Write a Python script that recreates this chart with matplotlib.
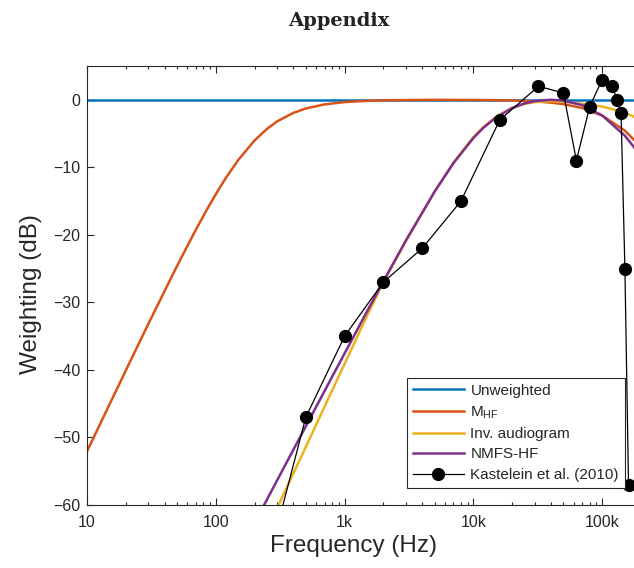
import matplotlib
matplotlib.use("Agg")
import matplotlib.pyplot as plt
from matplotlib.ticker import FixedLocator, FixedFormatter, LogLocator, NullFormatter

plt.rcParams['font.family'] = ['Liberation Sans', 'DejaVu Sans']
plt.rcParams['mathtext.fontset'] = 'custom'
plt.rcParams['mathtext.rm'] = 'Liberation Sans'
plt.rcParams['mathtext.it'] = 'Liberation Sans:italic'

# ---------------- data ----------------
unw_freq = [10, 200000]
unw_db = [0, 0]

mhf_freq = [10, 15, 20, 30, 50, 70, 85, 100, 120, 150, 200, 250, 300, 400, 500, 700,
            1000, 1500, 2000, 3000, 5000, 7000, 10000, 15000, 20000, 30000, 40000,
            50000, 70000, 100000, 150000, 200000]
mhf_db = [-52.06, -45.05, -40.09, -33.15, -24.61, -19.24, -16.31, -13.98, -11.54, -8.87,
          -6.02, -4.30, -3.19, -1.94, -1.29, -0.68, -0.34, -0.15, -0.09, -0.04, -0.01,
          -0.02, -0.03, -0.06, -0.11, -0.24, -0.42, -0.65, -1.22, -2.34, -4.58, -6.98]

inv_freq = [250, 300, 500, 700, 1000, 1500, 2000, 3000, 5000, 7000, 10000, 12000, 15000,
            20000, 25000, 30000, 40000, 50000, 70000, 100000, 150000, 200000]
inv_db = [-63.7, -60.4, -51.4, -45.4, -39.1, -31.9, -27.0, -20.9, -13.6, -9.3, -5.5,
          -4.0, -2.5, -1.2, -0.6, -0.35, -0.2, -0.3, -0.6, -1.0, -1.9, -3.0]

nmfs_freq = [200, 300, 500, 700, 1000, 1500, 2000, 3000, 5000, 7000, 10000, 12000, 15000,
             20000, 25000, 30000, 40000, 50000, 70000, 100000, 150000, 200000]
nmfs_db = [-62.65, -56.31, -48.34, -43.09, -37.55, -31.27, -26.87, -20.79, -13.59,
           -9.38, -5.66, -4.12, -2.61, -1.22, -0.53, -0.19, 0.0, -0.12, -0.80, -2.33,
           -5.33, -8.33]

kas_freq = [250, 500, 1000, 2000, 4000, 8000, 16000, 32000, 50000, 63000, 80000, 100000,
            120000, 130000, 140000, 150000, 160000]
kas_db = [-69, -47, -35, -27, -22, -15, -3, 2, 1, -9, -1, 3, 2, 0, -2, -25, -57]

xtick_vals = [10, 100, 1000, 10000, 100000]
xtick_labels = ['10', '100', '1k', '10k', '100k']
ytick_vals = [-60, -50, -40, -30, -20, -10, 0]

series_labels = ['Unweighted', r'M$_{\mathregular{HF}}$', 'Inv. audiogram', 'NMFS-HF',
                 'Kastelein et al. (2010)']
colors = ['#0072BD', '#D95319', '#EDB120', '#7E2F8E']

# ---------------- figure ----------------
W, H = 634, 568
fig = plt.figure(figsize=(W / 100, H / 100), dpi=100)
left, right, bottom, top = 87, 641, 505, 66
ax = fig.add_axes([left / W, 1 - bottom / H, (right - left) / W, (bottom - top) / H])

lw = 1.8
ax.plot(unw_freq, unw_db, color=colors[0], lw=lw, label=series_labels[0])
ax.plot(mhf_freq, mhf_db, color=colors[1], lw=lw, label=series_labels[1])
ax.plot(inv_freq, inv_db, color=colors[2], lw=lw, label=series_labels[2])
ax.plot(nmfs_freq, nmfs_db, color=colors[3], lw=lw, label=series_labels[3])
ax.plot(kas_freq, kas_db, color='black', lw=0.9, marker='o', ms=8.5,
        label=series_labels[4])

ax.set_xscale('log')
ax.set_xlim(10, 200000)
ax.set_ylim(-60, 5)
ax.xaxis.set_major_locator(FixedLocator(xtick_vals))
ax.xaxis.set_major_formatter(FixedFormatter(xtick_labels))
ax.xaxis.set_minor_locator(LogLocator(base=10, subs=range(2, 10), numticks=20))
ax.xaxis.set_minor_formatter(NullFormatter())
ax.set_yticks(ytick_vals)
ax.set_yticklabels([str(v).replace('-', '\u2212') for v in ytick_vals])

tc = '#262626'
for s in ax.spines.values():
    s.set_color(tc)
    s.set_linewidth(0.8)
ax.tick_params(which='both', direction='in', top=True, right=True, colors=tc,
               width=0.8)
ax.tick_params(which='major', length=5)
ax.tick_params(which='minor', length=2.5)
ax.tick_params(axis='x', labelsize=11.5, pad=7.5)
ax.tick_params(axis='y', labelsize=11.5, pad=4.5)
for t in ax.get_xticklabels() + ax.get_yticklabels():
    t.set_color(tc)

ax.set_xlabel('Frequency (Hz)', fontsize=17.5, color=tc)
ax.xaxis.set_label_coords((353 - left) / (right - left), (bottom - 535) / (bottom - top))
ax.set_ylabel('Weighting (dB)', fontsize=17.5, color=tc)
ax.yaxis.set_label_coords((42 - left) / (right - left), (bottom - 294) / (bottom - top))

leg = ax.legend(loc='lower right', bbox_to_anchor=(625 / W, 1 - 488 / H),
                bbox_transform=fig.transFigure, borderaxespad=0, fontsize=11,
                fancybox=False, framealpha=1, edgecolor=tc, handlelength=3.3,
                handletextpad=0.45, labelspacing=0.42, borderpad=0.4)
leg.get_frame().set_linewidth(0.8)
for t in leg.get_texts():
    t.set_color(tc)

fig.text(339 / W, 1 - 26 / H, 'Appendix', ha='center', va='baseline',
         fontfamily='DejaVu Serif', fontweight='bold', fontsize=14, color='#222222')

fig.savefig('out.png', dpi=100)
